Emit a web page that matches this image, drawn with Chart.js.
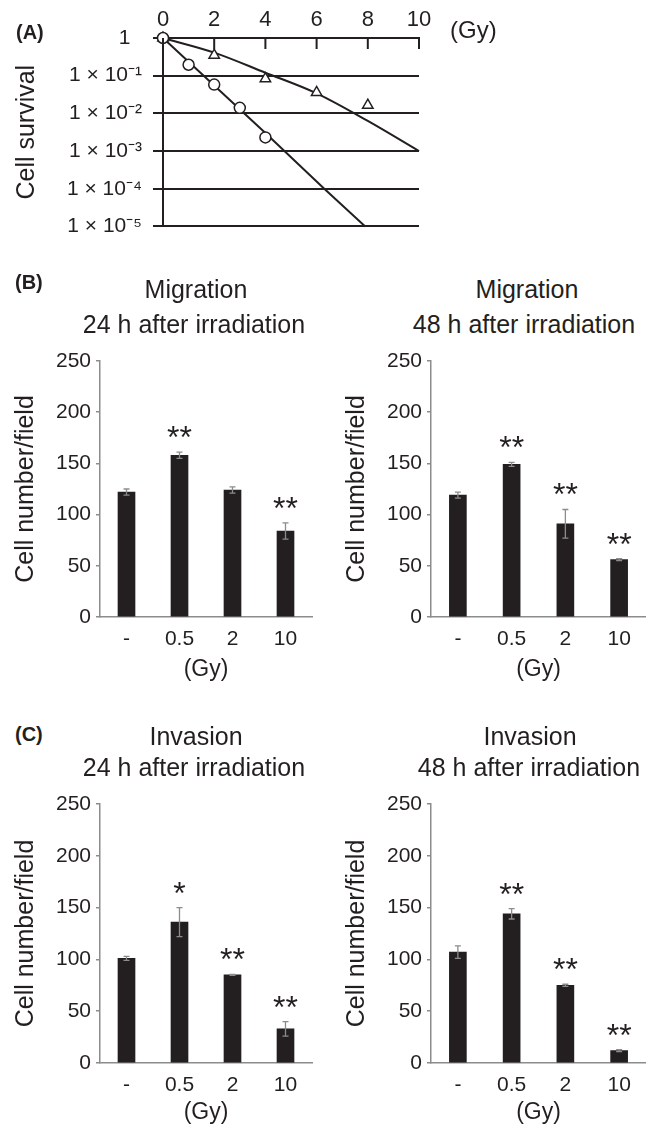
<!DOCTYPE html>
<html>
<head>
<meta charset="utf-8">
<script src="https://cdn.jsdelivr.net/npm/chart.js@4.4.1/dist/chart.umd.min.js"></script>
<style>
  body { margin: 0; background: #fff; }
  #page { position: relative; width: 646px; height: 1132px; overflow: hidden;
          font-family: "Liberation Sans", Arial, sans-serif; color: #231f20; }
  .box { position: absolute; }
  .txt { position: absolute; white-space: nowrap; line-height: 1; }
  .title { font-size: 25px; width: 320px; text-align: center; }
  .letter { font-size: 20px; font-weight: bold; }
</style>
</head>
<body>
<div id="page">
  <div class="box" style="left:0;top:0"><canvas id="survival" width="646" height="250"></canvas></div>
  <div class="box" style="left:0;top:340px"><canvas id="mig24" width="320" height="343"></canvas></div>
  <div class="box" style="left:331px;top:340px"><canvas id="mig48" width="315" height="343"></canvas></div>
  <div class="box" style="left:0;top:780px"><canvas id="inv24" width="320" height="346"></canvas></div>
  <div class="box" style="left:331px;top:780px"><canvas id="inv48" width="315" height="346"></canvas></div>

  <div class="txt letter" style="left:16px;top:22px">(A)</div>
  <div class="txt" style="left:450px;top:18px;font-size:24px">(Gy)</div>

  <div class="txt letter" style="left:15px;top:272px">(B)</div>
  <div class="txt title" style="left:36px;top:277px">Migration</div>
  <div class="txt title" style="left:34px;top:312px">24 h after irradiation</div>
  <div class="txt title" style="left:367px;top:277px">Migration</div>
  <div class="txt title" style="left:364px;top:312px">48 h after irradiation</div>

  <div class="txt letter" style="left:15px;top:724px">(C)</div>
  <div class="txt title" style="left:36px;top:724px">Invasion</div>
  <div class="txt title" style="left:34px;top:755px">24 h after irradiation</div>
  <div class="txt title" style="left:370px;top:724px">Invasion</div>
  <div class="txt title" style="left:369px;top:755px">48 h after irradiation</div>
</div>
<script>
// (A) survival curves
const survivalTicks = [1, 1e-1, 1e-2, 1e-3, 1e-4, 1e-5];
const survivalTickLabels = ['1  ', '1 × 10⁻¹', '1 × 10⁻²', '1 × 10⁻³', '1 × 10⁻⁴', '1 × 10⁻⁵'];
const circleDose = [0, 1, 2, 3, 4];
const circleSurvival = [1, 0.195, 0.058, 0.014, 0.0023];
const triangleDose = [0, 2, 4, 6, 8];
const triangleSurvival = [1, 0.35, 0.083, 0.036, 0.0165];
// fitted lines
const circleFitDose = [0, 4, 6.3, 7.9];
const circleFitSurvival = [1, 0.003, 1e-4, 1e-5];
const triangleFitDose = [0, 2, 4, 6, 8, 10];
const triangleFitSurvival = [1, 0.41, 0.12, 0.034, 0.0063, 0.001];

// (B), (C) bar charts
const doseLabels = ['-', '0.5', '2', '10'];
const migration24 = [122, 158, 124, 84];
const migration24Err = [3, 3, 3, 8];
const migration24Sig = ['', '**', '', '**'];
const migration48 = [119, 149, 91, 56];
const migration48Err = [3, 2, 14, 1];
const migration48Sig = ['', '**', '**', '**'];
const invasion24 = [101, 136, 85, 33];
const invasion24Err = [2, 14, 0.5, 7];
const invasion24Sig = ['', '*', '**', '**'];
const invasion48 = [107, 144, 75, 12];
const invasion48Err = [6, 5, 1, 1];
const invasion48Sig = ['', '**', '**', '**'];

const ink = '#231f20';
const axisGray = '#8c8c8c';
Chart.defaults.font.family = '"Liberation Sans", Arial, sans-serif';
Chart.defaults.color = ink;

const pairs = (xs, ys) => xs.map((x, i) => ({ x: x, y: ys[i] }));

// tick marks of the top dose axis point down into the plot
const innerTicks = {
    id: 'innerTicks',
    afterDraw(chart) {
        const { ctx, chartArea } = chart;
        const x = chart.scales.x;
        ctx.save();
        ctx.strokeStyle = ink;
        ctx.lineWidth = 2;
        x.ticks.forEach(t => {
            const px = x.getPixelForValue(t.value);
            ctx.beginPath();
            ctx.moveTo(px, chartArea.top);
            ctx.lineTo(px, chartArea.top + 11);
            ctx.stroke();
        });
        ctx.restore();
    }
};

new Chart(document.getElementById('survival'), {
    type: 'scatter',
    data: {
        datasets: [
            {
                data: pairs(circleDose, circleSurvival),
                pointStyle: 'circle', pointRadius: 5.5, pointBorderWidth: 1.5,
                pointBorderColor: ink, pointBackgroundColor: '#fff', clip: false
            },
            {
                data: pairs(triangleDose, triangleSurvival),
                pointStyle: 'triangle', pointRadius: 6, pointBorderWidth: 1.5,
                pointBorderColor: ink, pointBackgroundColor: '#fff', clip: false
            },
            {
                data: pairs(circleFitDose, circleFitSurvival),
                showLine: true, pointRadius: 0, borderColor: ink, borderWidth: 2, clip: false
            },
            {
                data: pairs(triangleFitDose, triangleFitSurvival),
                showLine: true, pointRadius: 0, borderColor: ink, borderWidth: 2,
                tension: 0.4, cubicInterpolationMode: 'monotone', clip: false
            }
        ]
    },
    options: {
        responsive: false,
        animation: false,
        devicePixelRatio: 1,
        layout: { autoPadding: false, padding: { top: 0, left: 0, right: 227, bottom: 18 } },
        plugins: { legend: { display: false }, tooltip: { enabled: false } },
        scales: {
            x: {
                type: 'linear', position: 'top', min: 0, max: 10,
                ticks: { stepSize: 2, font: { size: 22 }, padding: 5 },
                grid: { display: false, drawTicks: false },
                border: { color: ink, width: 2 },
                afterFit: s => { s.height = 38; }
            },
            y: {
                type: 'logarithmic', min: 1e-5, max: 1,
                afterBuildTicks: s => { s.ticks = survivalTicks.map(v => ({ value: v })); },
                ticks: {
                    autoSkip: false, font: { size: 21 }, padding: 11,
                    callback: v => survivalTickLabels[survivalTicks.indexOf(v)]
                },
                grid: { color: ink, lineWidth: 2, tickLength: 10 },
                border: { color: ink, width: 2 },
                title: { display: true, text: 'Cell survival', font: { size: 25 }, padding: { top: 12, bottom: 0 } },
                afterFit: s => { s.width = 163; }
            }
        }
    },
    plugins: [innerTicks]
});

// error bars and significance marks over each bar
const barExtras = {
    id: 'barExtras',
    afterDatasetsDraw(chart) {
        const { ctx } = chart;
        const y = chart.scales.y;
        const ds = chart.data.datasets[0];
        ctx.save();
        chart.getDatasetMeta(0).data.forEach((bar, i) => {
            const v = ds.data[i], e = ds.errors[i];
            const top = y.getPixelForValue(v + e);
            const bot = y.getPixelForValue(v - e);
            ctx.strokeStyle = axisGray;
            ctx.lineWidth = 1.3;
            ctx.beginPath();
            ctx.moveTo(bar.x, top); ctx.lineTo(bar.x, bot);
            ctx.moveTo(bar.x - 3, top); ctx.lineTo(bar.x + 3, top);
            ctx.moveTo(bar.x - 3, bot); ctx.lineTo(bar.x + 3, bot);
            ctx.stroke();
            if (ds.marks[i]) {
                ctx.fillStyle = ink;
                ctx.font = '32px "Liberation Sans", Arial, sans-serif';
                ctx.textAlign = 'center';
                ctx.textBaseline = 'alphabetic';
                ctx.fillText(ds.marks[i], bar.x, top - 4);
            }
        });
        ctx.restore();
    }
};

function barChart(id, values, errors, marks, padRight, padTop, xHeight) {
    new Chart(document.getElementById(id), {
        type: 'bar',
        data: {
            labels: doseLabels,
            datasets: [{
                data: values,
                errors: errors,
                marks: marks,
                backgroundColor: ink,
                borderWidth: 0,
                barThickness: 17
            }]
        },
        options: {
            responsive: false,
            animation: false,
            devicePixelRatio: 1,
            layout: { autoPadding: false, padding: { top: padTop, left: 0, right: padRight, bottom: 0 } },
            plugins: { legend: { display: false }, tooltip: { enabled: false } },
            scales: {
                x: {
                    ticks: { font: { size: 21 }, padding: 10 },
                    grid: { display: false, drawTicks: false },
                    border: { color: axisGray, width: 1.5 },
                    title: { display: true, text: '(Gy)', font: { size: 23 }, padding: { top: 0, bottom: 0 } },
                    afterFit: s => { s.height = xHeight; }
                },
                y: {
                    min: 0, max: 250,
                    ticks: { stepSize: 50, font: { size: 21 }, padding: 5 },
                    grid: { drawOnChartArea: false, tickLength: 4, color: axisGray, lineWidth: 1.5 },
                    border: { color: axisGray, width: 1.5 },
                    title: { display: true, text: 'Cell number/field', font: { size: 25 }, padding: { top: 11, bottom: 0 } },
                    afterFit: s => { s.width = 100; }
                }
            }
        },
        plugins: [barExtras]
    });
}

barChart('mig24', migration24, migration24Err, migration24Sig, 8, 21, 66);
barChart('mig48', migration48, migration48Err, migration48Sig, 0, 21, 66);
barChart('inv24', invasion24, invasion24Err, invasion24Sig, 8, 24, 63);
barChart('inv48', invasion48, invasion48Err, invasion48Sig, 0, 24, 63);
</script>
</body>
</html>
